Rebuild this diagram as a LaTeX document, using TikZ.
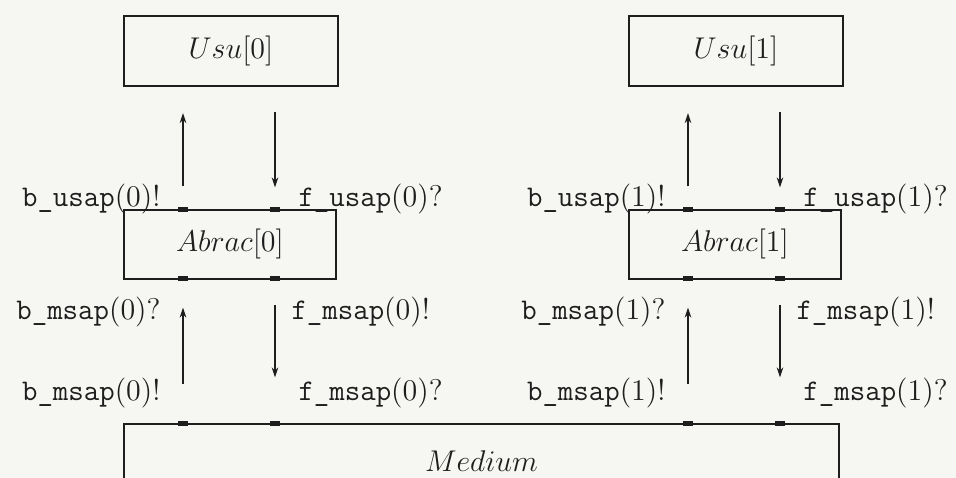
\documentclass[tikz,border=0pt]{standalone}
\usepackage{tikz}
\usetikzlibrary{arrows.meta}
\definecolor{paper}{RGB}{246,246,243}
\definecolor{ink}{RGB}{30,30,30}

\begin{document}
\begin{tikzpicture}[x=0.4pt, y=-0.4pt,
  proc/.style={draw=ink, line width=0.8pt, inner sep=0pt, font=\large, text=ink},
  port/.style={fill=ink, minimum width=4pt, minimum height=2pt, inner sep=0pt},
  flow/.style={draw=ink, line width=0.5pt, -{Stealth[length=4pt,width=2.6pt]}},
  sig/.style={font=\large, text=ink, inner sep=0pt}
]
\clip (0,0) rectangle (956,478);
\fill[paper] (0,0) rectangle (956,478);
% shared medium, runs off the bottom edge
\node[proc, minimum width=286pt, minimum height=29.6pt] (medium) at (481.5,461) {$Medium$};
% one user / one protocol entity per station
\foreach \i/\dx in {0/0, 1/505} {
\begin{scope}[shift={(\dx,0)}]
  \node[proc, minimum width=85.6pt, minimum height=28pt] (usu\i) at (231,51) {$Usu[\i]$};
  \node[proc, minimum width=84.8pt, minimum height=27.6pt] (abrac\i) at (230,244.5) {$Abrac[\i]$};
  % ports on the box edges
  \node[port] (bu\i) at (183,210) {};
  \node[port] (fu\i) at (275,210) {};
  \node[port] (bm\i) at (183,279) {};
  \node[port] (fm\i) at (275,279) {};
  \node[port] (mb\i) at (183,424) {};
  \node[port] (mf\i) at (275,424) {};
  % service primitives
  \node[sig, anchor=east] (lbu\i) at (161,199) {\texttt{b\_usap}(\i)!};
  \node[sig, anchor=west] (lfu\i) at (298,199) {\texttt{f\_usap}(\i)?};
  \node[sig, anchor=east] (lbmu\i) at (161,312) {\texttt{b\_msap}(\i)?};
  \node[sig, anchor=west] (lfmu\i) at (291,312) {\texttt{f\_msap}(\i)!};
  \node[sig, anchor=east] (lbml\i) at (161,393) {\texttt{b\_msap}(\i)!};
  \node[sig, anchor=west] (lfml\i) at (298,393) {\texttt{f\_msap}(\i)?};
\end{scope}
  \draw[flow, shorten <=8.2pt, shorten >=10.4pt] (bu\i) -- (usu\i.south -| bu\i);
  \draw[flow, shorten <=10pt, shorten >=7.8pt] (usu\i.south -| fu\i) -- (fu\i);
  \draw[flow, shorten <=14.6pt, shorten >=10.2pt] (mb\i) -- (bm\i);
  \draw[flow, shorten <=9.4pt, shorten >=17.4pt] (fm\i) -- (mf\i);
}
\end{tikzpicture}
\end{document}
